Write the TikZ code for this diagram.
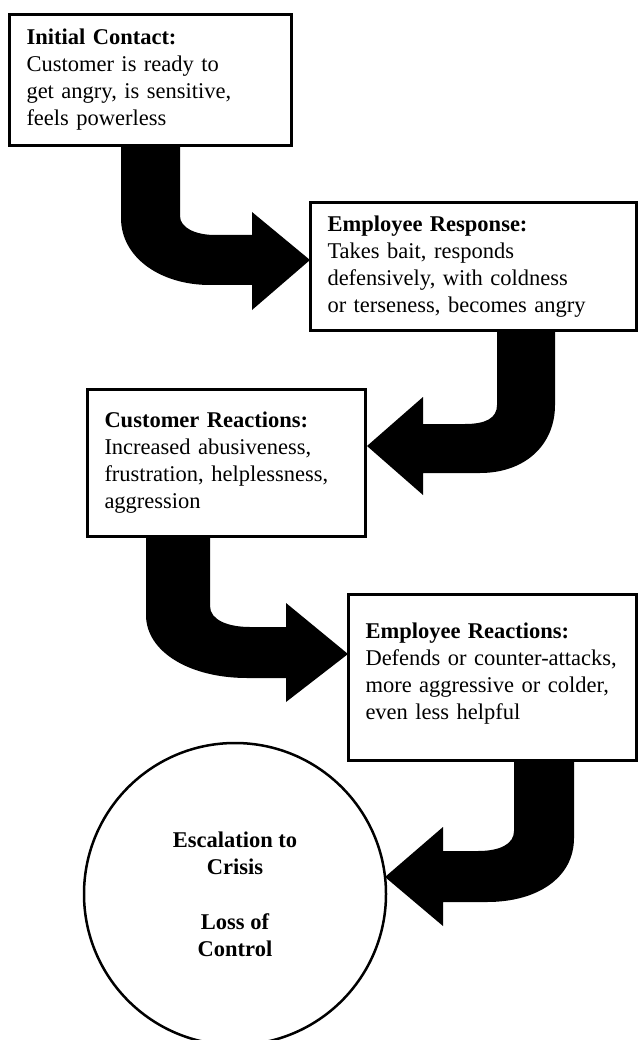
\documentclass[tikz,border=0pt]{standalone}
\usepackage{fontspec}
\setmainfont{Liberation Serif}
\begin{document}
\begin{tikzpicture}[x=1pt,y=-1pt,
  boxnode/.style={draw=black, line width=3pt, fill=white, anchor=north west,
    inner xsep=17pt, inner ysep=0pt, outer sep=0pt, align=left,
    font=\fontsize{22.5}{27}\selectfont},
  fatarrow/.style={fill=black, draw=none},
  endcircle/.style={draw=black, circle, line width=2.5pt, align=center,
    minimum size=302pt, inner sep=0pt,
    font=\fontsize{22.5}{27}\selectfont\bfseries}]
\useasboundingbox (0,0) rectangle (642,1040);

% boxes
\node[boxnode, minimum width=282pt, minimum height=131pt, text width=248pt] (b1) at (9.5,14.5)
  {\textbf{Initial Contact:}\\Customer is ready to\\get angry, is sensitive,\\feels powerless};
\node[boxnode, minimum width=326pt, minimum height=128pt, text width=292pt] (b2) at (310.5,202.5)
  {\textbf{Employee Response:}\\Takes bait, responds\\defensively, with coldness\\or terseness, becomes angry};
\node[boxnode, minimum width=278pt, minimum height=147pt, text width=244pt] (b3) at (87.5,389.5)
  {\textbf{Customer Reactions:}\\Increased abusiveness,\\frustration, helplessness,\\aggression\rule[-6pt]{0pt}{0pt}};
\node[boxnode, minimum width=288pt, minimum height=166pt, text width=254pt] (b4) at (348.5,594.5)
  {\textbf{Employee Reactions:}\\Defends or counter-attacks,\\more aggressive or colder,\\even less helpful\rule[-12pt]{0pt}{0pt}};
\node[endcircle] (c) at (235,894)
  {Escalation to\\Crisis\\[28pt]Loss of\\Control};

% arrow 1 (right turn)
\fill[fatarrow] (121,146) -- (180,146) -- (180,216)
  .. controls (180,228) and (196,235) .. (215,235) -- (252,235) -- (252,212)
  -- (310,260) -- (252,310) -- (252,285) -- (210,285)
  .. controls (161,285) and (121,258) .. (121,218) -- cycle;

% arrow 2 (left turn)
\fill[fatarrow] (497,331) -- (555,331) -- (555,405)
  .. controls (555,445) and (525,473) .. (480,473) -- (423,473) -- (423,495)
  -- (367,446) -- (423,397) -- (423,424) -- (465,424)
  .. controls (486,424) and (497,418) .. (497,405) -- cycle;

% arrow 3 (right turn)
\fill[fatarrow] (146,537) -- (210,537) -- (210,606)
  .. controls (210,620) and (228,627) .. (250,627) -- (286,627) -- (286,603)
  -- (348,654) -- (286,702) -- (286,678) -- (247,678)
  .. controls (190,678) and (146,652) .. (146,615) -- cycle;

% arrow 4 (left turn)
\fill[fatarrow] (514,761) -- (574,761) -- (574,838)
  .. controls (574,878) and (537,902) .. (487,902) -- (443,902) -- (443,926)
  -- (385,877) -- (443,827) -- (443,851) -- (478,851)
  .. controls (500,851) and (514,844) .. (514,831) -- cycle;
\end{tikzpicture}
\end{document}
